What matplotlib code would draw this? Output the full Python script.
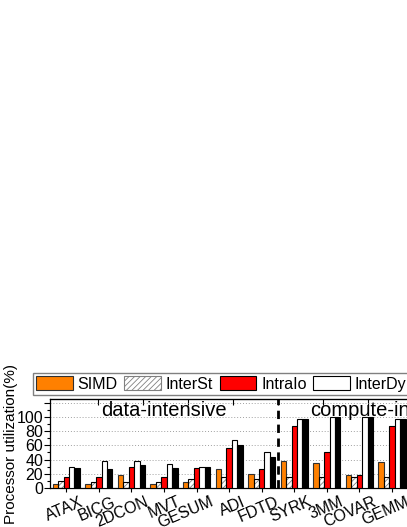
"""Processor utilization per benchmark, grouped bars (data- vs compute-intensive)."""

import matplotlib

matplotlib.use("Agg")
import matplotlib.pyplot as plt
import matplotlib.transforms as mtransforms
import numpy as np
from matplotlib.patches import Patch

plt.rcParams["font.family"] = ["Liberation Sans", "DejaVu Sans"]
plt.rcParams["hatch.linewidth"] = 0.6

FIG_W, FIG_H, DPI = 407, 527, 100

benchmarks = ["ATAX", "BICG", "2DCON", "MVT", "GESUM", "ADI", "FDTD",
              "SYRK", "3MM", "COVAR", "GEMM"]
N_DATA = 7      # data-intensive groups
N_COMPUTE = 7   # compute-intensive groups (only the first four fit the frame)

series_names = ["SIMD", "InterSt", "IntraIo", "InterDy", "Ours"]
simd = [5, 6, 18, 6, 8, 26, 20, 38, 35, 18, 36]
inter_st = [10, 8, 8, 8, 12, 15, 12, 16, 16, 16, 16]
intra_io = [15, 16, 30, 15, 28, 56, 27, 87, 50, 18, 87]
inter_dy = [29, 38, 38, 34, 30, 67, 50, 97, 100, 100, 97]
ours = [28, 27, 32, 28, 30, 61, 43, 97, 100, 100, 97]

y_ticks = [0, 20, 40, 60, 80, 100, 120]
y_ticklabels = ["0", "20", "40", "60", "80", "100", ""]

STYLES = [
    dict(facecolor="#ff8000", edgecolor="#303030"),
    dict(facecolor="white", edgecolor="#808080", hatch="//////"),
    dict(facecolor="#ff0000", edgecolor="black"),
    dict(facecolor="white", edgecolor="black"),
    dict(facecolor="black", edgecolor="black"),
]


def main():
    fig = plt.figure(figsize=(FIG_W / DPI, FIG_H / DPI), dpi=DPI)
    # axes run past the right edge, as in the cropped original
    ax = fig.add_axes([50 / FIG_W, 39 / FIG_H, 456 / FIG_W, 89 / FIG_H])

    x = np.arange(len(benchmarks))
    width = 0.166
    values = [simd, inter_st, intra_io, inter_dy, ours]
    for k, (vals, style) in enumerate(zip(values, STYLES)):
        pos = x + (k - 2) * width
        if "hatch" in style:
            ax.bar(pos, vals, width, linewidth=0, zorder=2, **style)
            ax.bar(pos, vals, width, facecolor="none", edgecolor="black",
                   linewidth=0.8, zorder=3)
        else:
            ax.bar(pos, vals, width, linewidth=0.8, zorder=3, **style)

    ax.set_xlim(-0.5, N_DATA + N_COMPUTE - 0.5)
    ax.set_ylim(0, 125)
    ax.set_yticks(y_ticks, y_ticklabels, fontsize=11.5)
    ax.set_yticks(np.arange(0, 126, 10), minor=True)
    ax.tick_params(axis="y", which="major", direction="out", length=4, width=0.8, pad=1)
    ax.tick_params(axis="y", which="minor", direction="out", length=2, width=0.8)
    ax.yaxis.grid(True, which="major", linestyle=(0, (1, 2)), color="#a0a0a0",
                  linewidth=0.7, zorder=0)
    ax.set_axisbelow(True)
    ax.set_ylabel("Processor utilization(%)", fontsize=11)
    ax.yaxis.set_label_coords(-0.071, 0.5)

    ax.set_xticks(x, benchmarks, fontsize=11.5, rotation=23, ha="right",
                  rotation_mode="anchor")
    ax.tick_params(axis="x", direction="out", length=3, width=0.8, pad=1.5)
    shift = mtransforms.ScaledTranslation(13 / DPI, 0, fig.dpi_scale_trans)
    for lab in ax.get_xticklabels():
        lab.set_transform(lab.get_transform() + shift)

    top = ax.secondary_xaxis("top")
    top.set_xticks(N_DATA - 0.5 + 1.38 * np.arange(-4, 6))
    top.tick_params(direction="in", length=4, width=0.8, labeltop=False)

    for sp in ax.spines.values():
        sp.set_linewidth(0.9)

    ax.axvline(N_DATA - 0.5, color="black", linestyle=(0, (3, 2)), linewidth=2, zorder=4)
    ax.text((N_DATA - 1) / 2, 122, "data-intensive", ha="center", va="top",
            fontsize=14.5)
    ax.text(N_DATA - 0.5 + N_COMPUTE / 2, 122, "compute-intensive", ha="center",
            va="top", fontsize=14.5)

    handles = []
    for name, style in zip(series_names, STYLES):
        handles.append(Patch(linewidth=0.8, label=name, **style))
    fig.legend(handles=handles, loc="upper left", ncol=5,
               bbox_to_anchor=(33 / FIG_W, 154 / FIG_H), borderaxespad=0,
               fontsize=11.5, handlelength=2.3, handleheight=1.0,
               handletextpad=0.3, columnspacing=0.4, borderpad=0.2,
               fancybox=False, edgecolor="#808080", framealpha=1)

    fig.savefig("out.png", dpi=DPI)


if __name__ == "__main__":
    main()
